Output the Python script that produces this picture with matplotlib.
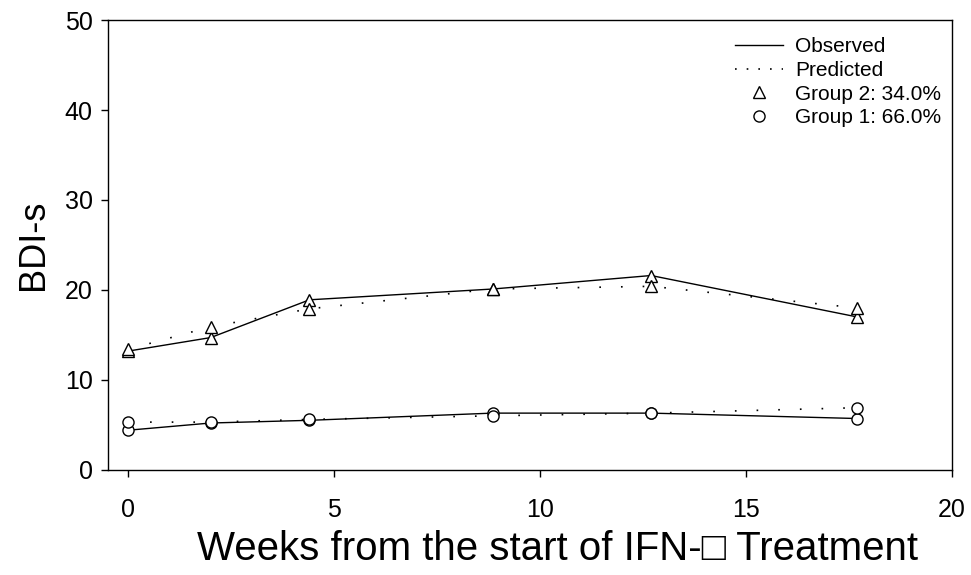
import matplotlib
matplotlib.use("Agg")
import matplotlib.pyplot as plt
from matplotlib.lines import Line2D

plt.rcParams['font.family'] = ['Liberation Sans', 'DejaVu Sans']

# weeks of assessment
weeks = [0, 2, 4.4, 8.85, 12.7, 17.7]

# group 2 (34.0%)
g2_obs = [13.2, 14.7, 18.9, 20.1, 21.6, 17.0]
g2_pred = [13.4, 15.9, 17.9, 20.1, 20.4, 18.0]

# group 1 (66.0%)
g1_obs = [4.4, 5.2, 5.5, 6.3, 6.3, 5.7]
g1_pred = [5.3, 5.3, 5.6, 6.0, 6.3, 6.9]

xticks = [0, 5, 10, 15, 20]
yticks = [0, 10, 20, 30, 40, 50]

fig = plt.figure(figsize=(9.71, 5.75), dpi=100)
ax = fig.add_axes([0.111, 0.183, 0.869, 0.782])

dot = (0, (1, 12))
mk = dict(markerfacecolor='white', markeredgecolor='black', markeredgewidth=1.0)

ax.plot(weeks, g2_obs, color='black', lw=1.0, zorder=2)
ax.plot(weeks, g2_pred, color='black', lw=1.2, ls=dot, zorder=2)
ax.plot(weeks, g1_obs, color='black', lw=1.0, zorder=2)
ax.plot(weeks, g1_pred, color='black', lw=1.2, ls=dot, zorder=2)

ax.plot(weeks, g2_obs, ls='none', marker='^', ms=9, zorder=3, **mk)
ax.plot(weeks, g2_pred, ls='none', marker='^', ms=9, zorder=3, **mk)
ax.plot(weeks, g1_obs, ls='none', marker='o', ms=8, zorder=3, **mk)
ax.plot(weeks, g1_pred, ls='none', marker='o', ms=8, zorder=3, **mk)

ax.set_xlim(-0.5, 20)
ax.set_ylim(0, 50)
ax.set_xticks(xticks)
ax.set_yticks(yticks)
ax.tick_params(labelsize=18, direction='out', length=5, width=1, color='black')
ax.tick_params(axis='x', pad=15)
ax.tick_params(axis='y', pad=6)
for s in ax.spines.values():
    s.set_linewidth(1.0)

ax.set_ylabel('BDI-s', fontsize=26, labelpad=10)
ax.set_xlabel('Weeks from the start of IFN-\u25a1 Treatment', fontsize=29, labelpad=4)
ax.xaxis.set_label_coords(0.533, -0.135)

handles = [
    Line2D([], [], color='black', lw=1.0),
    Line2D([], [], color='black', lw=1.2, ls=(0, (1, 6))),
    Line2D([], [], ls='none', marker='^', ms=8, **mk),
    Line2D([], [], ls='none', marker='o', ms=8, **mk),
]
labels = ['Observed', 'Predicted', 'Group 2: 34.0%', 'Group 1: 66.0%']
ax.legend(handles, labels, loc='upper right', bbox_to_anchor=(0.998, 0.98),
          frameon=False, fontsize=15, handlelength=2.3, handletextpad=0.6,
          labelspacing=0.22, borderaxespad=0)

fig.savefig('out.png', dpi=100)
